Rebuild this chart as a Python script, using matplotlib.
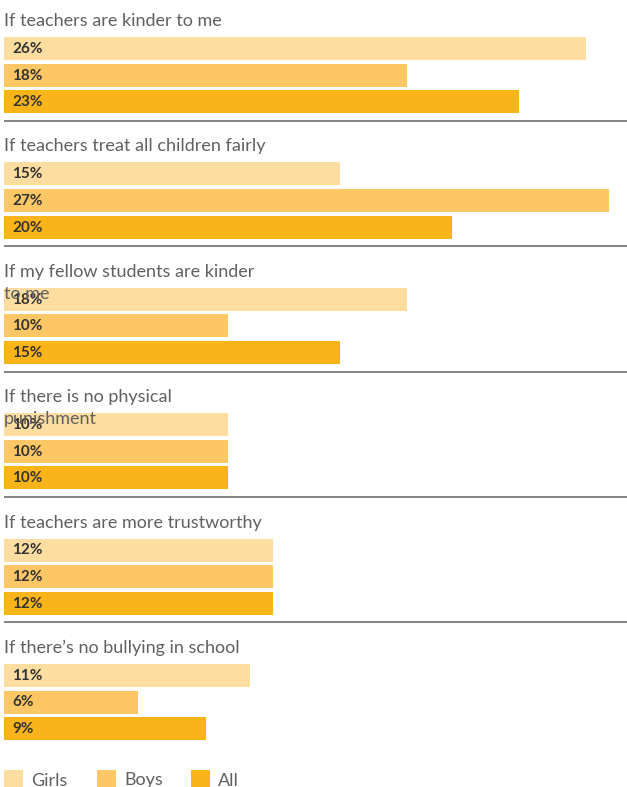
import matplotlib
matplotlib.use("Agg")
from matplotlib import pyplot as plt
from matplotlib.patches import Rectangle

# data (percent)
categories = [
    "If teachers are kinder to me",
    "If teachers treat all children fairly",
    "If my fellow students are kinder\nto me",
    "If there is no physical\npunishment",
    "If teachers are more trustworthy",
    "If there\u2019s no bullying in school",
]
series_names = ["Girls", "Boys", "All"]
girls = [26, 15, 18, 10, 12, 11]
boys = [18, 27, 10, 10, 12, 6]
all_children = [23, 20, 15, 10, 12, 9]

colors = ["#FDDDA0", "#FDC766", "#F9B419"]
title_color = "#606060"
value_color = "#333333"

W, H = 627, 787
px_per_pct = 22.4
group_pitch = 125.4

plt.rcParams['font.family'] = ['Lato', 'DejaVu Sans']

fig = plt.figure(figsize=(W / 100, H / 100), dpi=100)
# axes: x in percent, y in pixels from the top
ax = fig.add_axes([4 / W, 0, (W - 4) / W, 1])
ax.set_xlim(0, (W - 4) / px_per_pct)
ax.set_ylim(H, 0)
ax.axis('off')

values = [girls, boys, all_children]
bar_offsets = [48.4, 75.0, 101.6]
for g, cat in enumerate(categories):
    top = g * group_pitch
    for i, line in enumerate(cat.split("\n")):
        ax.text(0, top + 26 + i * 22, line, fontsize=13, color=title_color,
                va='baseline', ha='left', zorder=5)
    for s in range(3):
        y = top + bar_offsets[s]
        v = values[s][g]
        ax.barh(y, v, height=23, color=colors[s], edgecolor='none', zorder=2)
        ax.text(8.4 / px_per_pct, y + 0.5, f"{v}%", fontsize=11, fontweight='bold',
                color=value_color, va='center', ha='left', zorder=4)
    if g < len(categories) - 1:
        ax.axhline(top + 120.8, color='#7a7a7a', lw=1.3, zorder=1)

# legend along the bottom edge
legend_x = [4, 97, 191]
for name, c, lx in zip(series_names, colors, legend_x):
    fig.add_artist(Rectangle((lx / W, 0), 19 / W, 17 / H, transform=fig.transFigure,
                             facecolor=c, edgecolor='none'))
    fig.text((lx + 27) / W, 1.5 / H, name, fontsize=13,
             color=title_color, va='baseline', ha='left')

plt.savefig("out.png", dpi=100)
